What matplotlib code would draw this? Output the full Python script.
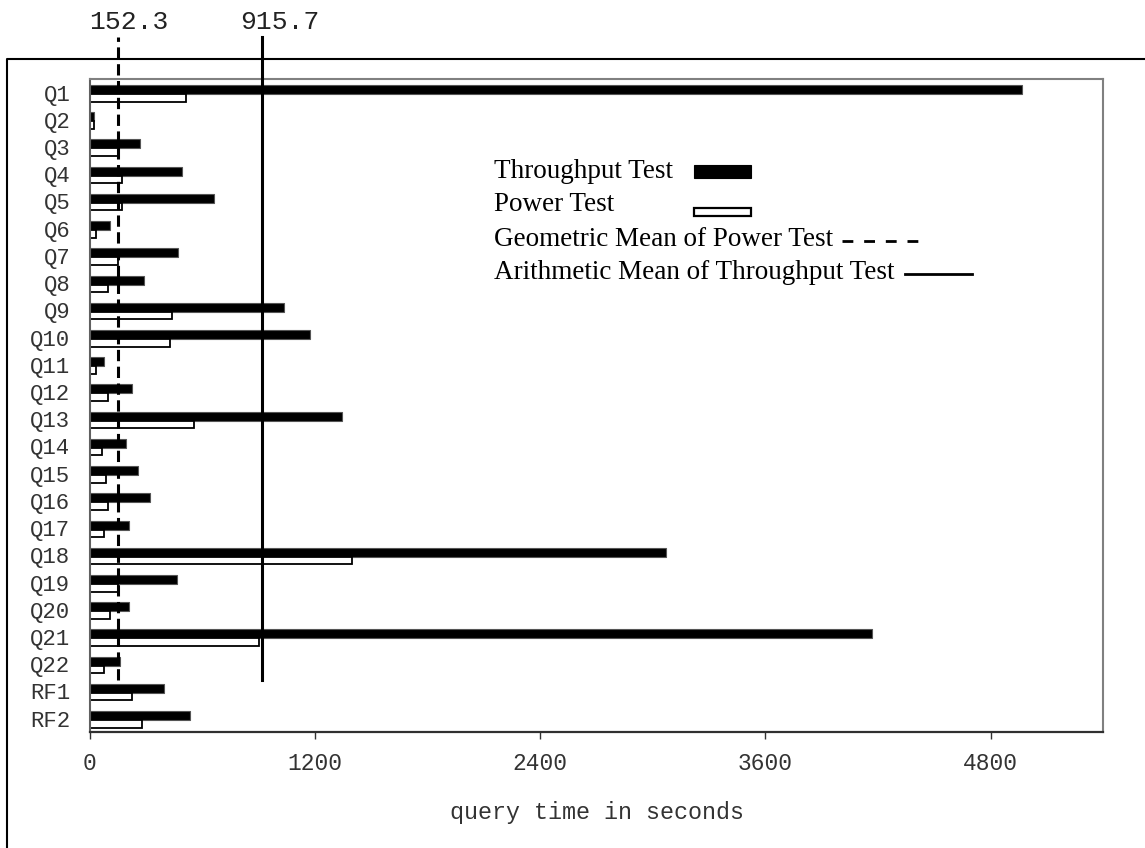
import matplotlib.pyplot as plt
from matplotlib.lines import Line2D
from matplotlib.patches import Rectangle

# query times in seconds
queries = ['Q1', 'Q2', 'Q3', 'Q4', 'Q5', 'Q6', 'Q7', 'Q8', 'Q9', 'Q10', 'Q11', 'Q12',
           'Q13', 'Q14', 'Q15', 'Q16', 'Q17', 'Q18', 'Q19', 'Q20', 'Q21', 'Q22', 'RF1', 'RF2']
throughput = [4967, 24, 269, 493, 663, 109, 472, 290, 1036, 1175, 76, 226,
              1345, 194, 258, 322, 207, 3070, 463, 207, 4168, 163, 397, 535]
power = [512, 20, 158, 171, 171, 31, 148, 95, 438, 425, 31, 95,
         553, 63, 85, 95, 74, 1395, 152, 106, 901, 74, 225, 278]
geo_mean_power = 152.3
arith_mean_throughput = 915.7
xticks = [0, 1200, 2400, 3600, 4800]

W, H = 1145, 848
mono = 'Liberation Mono'
serif = 'Liberation Serif'

fig = plt.figure(figsize=(W / 100, H / 100), dpi=100)
ax = fig.add_axes([89.8 / W, 1 - 732.3 / H, 1013.5 / W, 653.3 / H])

pos = list(range(len(queries)))
ax.barh([p - 0.115 for p in pos], throughput, height=0.33, color='black',
        edgecolor='#555555', linewidth=0.8, zorder=2)
ax.barh([p + 0.19 for p in pos], power, height=0.28, color='white',
        edgecolor='black', linewidth=1.3, zorder=2)

ax.set_xlim(0, 5400)
ax.set_ylim(len(queries) - 0.5, -0.5)

# mean lines, reaching above the plot area, with their values on top
for val, ls, shift in ((geo_mean_power, (0, (3.7, 1.8)), 10),
                       (arith_mean_throughput, '-', 18)):
    ax.axvline(val, ymin=(732.3 - 680) / 653.3, ymax=(732.3 - 37) / 653.3,
               color='black', linewidth=2.2, linestyle=ls, clip_on=False, zorder=3)
    ax.annotate(f'{val}', xy=(val, 1), xycoords=('data', 'axes fraction'),
                xytext=(shift, 79 - 29), textcoords='offset pixels',
                ha='center', va='baseline', fontsize=19, family=mono, color='#222222',
                annotation_clip=False)

ax.set_xticks(xticks)
ax.set_xticklabels([str(t) for t in xticks])
ax.set_yticks(pos)
ax.set_yticklabels(queries)
ax.tick_params(axis='x', direction='out', length=5, width=1, color='#333333',
               pad=9, labelsize=16.5, labelcolor='#333333')
ax.tick_params(axis='y', length=0, pad=14, labelsize=16, labelcolor='#333333')
for lab in ax.get_xticklabels() + ax.get_yticklabels():
    lab.set_family(mono)
ax.set_xlabel('query time in seconds', family=mono, fontsize=16.8, color='#333333', labelpad=19)

for side in ('top', 'right'):
    ax.spines[side].set_color('#808080')
    ax.spines[side].set_linewidth(1.5)
ax.spines['left'].set_color('#606060')
ax.spines['left'].set_linewidth(1.5)
ax.spines['bottom'].set_color('#303030')
ax.spines['bottom'].set_linewidth(1.6)


def fx(px):
    return px / W


def fy(py):
    return 1 - py / H


# outer frame, running off the right and bottom edges
fig.add_artist(Line2D([fx(7), fx(7), fx(W + 5)], [fy(H + 5), fy(59), fy(59)],
                      color='black', linewidth=1.5, transform=fig.transFigure))

# hand-placed legend
legend_rows = ['Throughput Test', 'Power Test', 'Geometric Mean of Power Test',
               'Arithmetic Mean of Throughput Test']
baselines = [178, 211, 246, 279]
for txt, base in zip(legend_rows, baselines):
    fig.text(fx(494), fy(base), txt, family=serif, fontsize=19.5, va='baseline', ha='left')

fig.add_artist(Rectangle((fx(694), fy(178)), fx(57), 12.5 / H, facecolor='black',
                         edgecolor='black', linewidth=0.8, transform=fig.transFigure))
fig.add_artist(Rectangle((fx(694), fy(216)), fx(57), 7.5 / H, facecolor='white',
                         edgecolor='black', linewidth=1.6, transform=fig.transFigure))
fig.add_artist(Line2D([fx(842), fx(920)], [fy(241), fy(241)], color='black', linewidth=2,
                      linestyle=(0, (3.9, 3.9)), transform=fig.transFigure))
fig.add_artist(Line2D([fx(905), fx(972)], [fy(274), fy(274)], color='black', linewidth=2,
                      transform=fig.transFigure))

fig.savefig('out.png', dpi=100)
